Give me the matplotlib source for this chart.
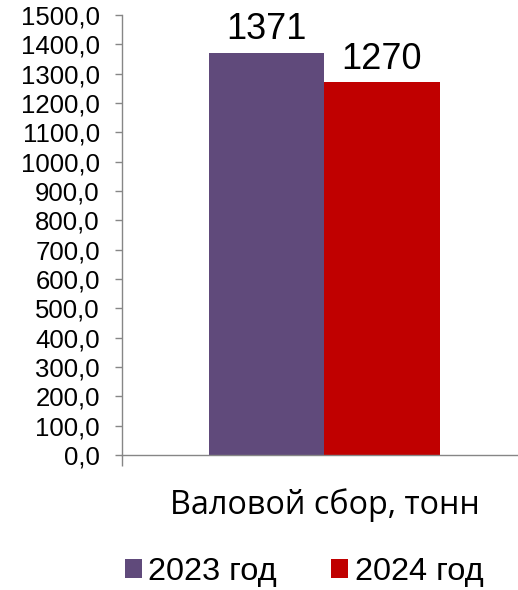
import numpy as np
import matplotlib.pyplot as plt

# data
years = ['2023 год', '2024 год']
values = [1371, 1270]
colors = ['#604A7B', '#C00000']
category = 'Валовой сбор, тонн'
yticks = np.arange(0, 1600, 100)

fig = plt.figure(figsize=[5.18, 5.90], dpi=100)
ax = fig.add_axes([122/518, 135/590, 396/518, 440/590])

xpos = [-0.5, 0.5]
bars = []
for x, v, c, lab in zip(xpos, values, colors, years):
    b = ax.bar(x, v, width=1.0, color=c, label=lab)
    bars.append(b[0])
    ax.annotate(str(v), (x, v), xytext=(0, 4), textcoords='offset points',
                ha='center', va='bottom', fontsize=26, family='Liberation Sans')

ax.set_xlim(-202/115.5, 194/115.5)
ax.set_ylim(0, 1500)
ax.set_yticks(yticks)
ax.set_yticklabels([('%.1f' % t).replace('.', ',') for t in yticks],
                   family='Liberation Sans', fontsize=18.5)
ax.tick_params(axis='y', direction='out', length=5, width=1, color='#868686', pad=11)
ax.set_xticks([ax.get_xlim()[0]])
ax.set_xticklabels([''])
ax.tick_params(axis='x', direction='out', length=8, width=1, color='#868686')

for s in ['top', 'right']:
    ax.spines[s].set_visible(False)
for s in ['left', 'bottom']:
    ax.spines[s].set_color('#868686')
    ax.spines[s].set_linewidth(1)

fig.text(325/518, 1 - 505/590, category, ha='center', va='center',
         fontsize=23.3, family='Open Sans')

fig.legend(handles=bars, labels=years, loc='center', bbox_to_anchor=(304/518, 1 - 572/590),
           ncol=2, frameon=False, prop={'family': 'Liberation Sans', 'size': 23.4},
           handlelength=0.52, handleheight=0.52, handletextpad=0.21, columnspacing=1.66)

fig.savefig('out.png', dpi=100)
